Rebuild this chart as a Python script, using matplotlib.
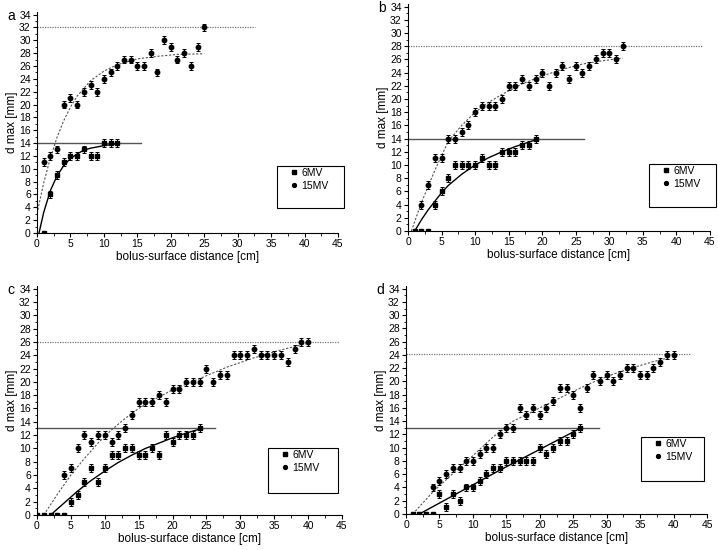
import numpy as np
import matplotlib
matplotlib.use('Agg')
import matplotlib.pyplot as plt
from matplotlib.patches import Rectangle
from matplotlib.lines import Line2D

plt.rcParams['font.family'] = ['Liberation Sans', 'DejaVu Sans']

# ---- panel a ----
x6_a = [1, 2, 3, 4, 5, 6, 7, 8, 9, 10, 11, 12]
y6_a = [0, 6, 9, 11, 12, 12, 13, 12, 12, 14, 14, 14]
x15_a = list(range(1, 26))
y15_a = [11, 12, 13, 20, 21, 20, 22, 23, 22, 24, 25, 26, 27, 27, 26, 26, 28, 25, 30, 29, 27, 28, 26, 29, 32]
fit6_a_x = [0.3, 1, 2, 3, 4, 5, 6, 7, 8, 10, 12]
fit6_a_y = [0, 3.2, 6.6, 8.9, 10.5, 11.6, 12.3, 12.9, 13.2, 13.6, 13.9]
fit15_a_x = [0, 1, 2, 3, 4, 5, 6, 8, 10, 12, 15, 18, 21, 25]
fit15_a_y = [3.0, 7.8, 11.7, 14.9, 17.5, 19.6, 21.3, 23.7, 25.2, 26.2, 27.1, 27.5, 27.8, 27.9]

# ---- panel b ----
x6_b = list(range(1, 20))
y6_b = [0, 0, 0, 4, 6, 8, 10, 10, 10, 10, 11, 10, 10, 12, 12, 12, 13, 13, 14]
x15_b = list(range(2, 33))
y15_b = [4, 7, 11, 11, 14, 14, 15, 16, 18, 19, 19, 19, 20, 22, 22, 23, 22, 23, 24, 22, 24, 25, 23, 25, 24, 25, 26, 27, 27, 26, 28]
fit6_b_x = [1, 2, 3, 4, 5, 6, 8, 10, 12, 14, 16, 19]
fit6_b_y = [0, 1.7, 3.2, 4.5, 5.8, 6.9, 8.6, 10, 11.1, 12, 12.8, 13.8]
fit15_b_x = [0.5, 2, 4, 6, 8, 10, 12, 14, 17, 20, 23, 26, 29, 32]
fit15_b_y = [0, 4.3, 9.2, 13.6, 16, 18, 19.5, 20.7, 22.3, 23.5, 24.5, 25.3, 25.8, 26.2]

# ---- panel c ----
x6_c = list(range(0, 25))
y6_c = [0, 0, 0, 0, 0, 2, 3, 5, 7, 5, 7, 9, 9, 10, 10, 9, 9, 10, 9, 12, 11, 12, 12, 12, 13]
x15_c = list(range(4, 41))
y15_c = [6, 7, 10, 12, 11, 12, 12, 11, 12, 13, 15, 17, 17, 17, 18, 17, 19, 19, 20, 20, 20, 22, 20, 21, 21,
         24, 24, 24, 25, 24, 24, 24, 24, 23, 25, 26, 26]
fit6_c_x = [2, 4, 6, 8, 10, 12, 14, 16, 18, 20, 22, 24]
fit6_c_y = [0, 1.8, 3.6, 5.2, 6.6, 7.9, 9.0, 10.0, 10.8, 11.6, 12.3, 12.9]
fit15_c_x = [1, 3, 5, 7, 9, 11, 13, 15, 17, 20, 24, 28, 32, 36, 40]
fit15_c_y = [0, 3.1, 6, 8.5, 10.8, 12.8, 14.5, 16, 17.2, 18.8, 20.5, 22.2, 23.6, 24.8, 25.8]

# ---- panel d ----
x6_d = list(range(1, 27))
y6_d = [0, 0, 0, 0, 3, 1, 3, 2, 4, 4, 5, 6, 7, 7, 8, 8, 8, 8, 8, 10, 9, 10, 11, 11, 12, 13]
x15_d = list(range(4, 41))
y15_d = [4, 5, 6, 7, 7, 8, 8, 9, 10, 10, 12, 13, 13, 16, 15, 16, 15, 16, 17, 19, 19, 18, 16, 19, 21,
         20, 21, 20, 21, 22, 22, 21, 21, 22, 23, 24, 24]
fit6_d_x = [2, 6, 10, 14, 18, 22, 26]
fit6_d_y = [0, 2.2, 4.4, 6.6, 8.7, 10.8, 12.9]
fit15_d_x = [1, 4, 7, 10, 13, 16, 19, 22, 25, 28, 31, 34, 37, 39]
fit15_d_y = [0, 3.3, 6.1, 8.8, 11.6, 14, 15.5, 17, 18.5, 19.9, 21.1, 22.1, 23, 23.5]

# plateau levels (value, end of line in cm)
plateau6 = {'a': (14, 15.6), 'b': (14, 26.2), 'c': (13, 26.2), 'd': (13, 28.8)}
plateau15 = {'a': (32, 32.6), 'b': (28, 43.9), 'c': (26, 44.5), 'd': (24.1, 42.5)}

panels = {
    'a': (x6_a, y6_a, x15_a, y15_a, fit6_a_x, fit6_a_y, fit15_a_x, fit15_a_y),
    'b': (x6_b, y6_b, x15_b, y15_b, fit6_b_x, fit6_b_y, fit15_b_x, fit15_b_y),
    'c': (x6_c, y6_c, x15_c, y15_c, fit6_c_x, fit6_c_y, fit15_c_x, fit15_c_y),
    'd': (x6_d, y6_d, x15_d, y15_d, fit6_d_x, fit6_d_y, fit15_d_x, fit15_d_y),
}

W, H = 718, 550
# axes boxes in pixels: left, y of zero, px width, px height
boxes = {'a': (37, 233, 301, 221), 'b': (408, 231, 302, 227),
         'c': (37, 515, 305, 229), 'd': (406, 514, 301, 228)}
legend_boxes = {'a': (277, 166, 67, 42), 'b': (649, 164, 67, 43),
                'c': (268, 448, 70, 45), 'd': (641, 437, 63, 44)}

fig = plt.figure(figsize=(W / 100, H / 100), dpi=100)

for key, (x6, y6, x15, y15, f6x, f6y, f15x, f15y) in panels.items():
    l, y0, w, h = boxes[key]
    ax = fig.add_axes([l / W, 1 - y0 / H, w / W, h / H])

    p6, e6 = plateau6[key]
    p15, e15 = plateau15[key]
    ax.plot([0, e6], [p6, p6], color='#555555', lw=1.0, zorder=1)
    ax.plot([0, e15], [p15, p15], color='#777777', lw=0.9, ls=(0, (1, 1)), zorder=1)
    ax.plot(f6x, f6y, color='black', lw=1.0, zorder=2)
    ax.plot(f15x, f15y, color='#555555', lw=0.8, ls=(0, (2, 1.5)), zorder=2)

    y6 = np.array(y6)
    y15 = np.array(y15)
    ax.errorbar(x6, y6, yerr=np.where(y6 > 0, 0.6, 0), fmt='s', ms=2.8, color='black',
                ecolor='black', elinewidth=0.7, capsize=1.6, capthick=0.7, zorder=3)
    ax.errorbar(x15, y15, yerr=np.where(y15 > 0, 0.6, 0), fmt='o', ms=3.2, color='black',
                ecolor='black', elinewidth=0.7, capsize=1.6, capthick=0.7, zorder=3)

    ax.set_xlim(0, 45)
    ax.set_ylim(0, 34.4)
    ax.set_xticks(np.arange(0, 46, 5))
    ax.set_xticks(np.arange(2.5, 45, 5), minor=True)
    ax.set_yticks(np.arange(0, 35, 2))
    ax.set_yticks(np.arange(1, 34, 2), minor=True)
    ax.spines['top'].set_visible(False)
    ax.spines['right'].set_visible(False)
    ax.spines['left'].set_bounds(0, 34.4)
    ax.tick_params(axis='both', which='major', direction='out', length=3, width=0.8,
                   labelsize=7.5, pad=1.5)
    ax.tick_params(axis='both', which='minor', direction='out', length=1.8, width=0.6)
    ax.set_xlabel('bolus-surface distance [cm]', fontsize=8.5, labelpad=1)
    ax.set_ylabel('d max [mm]', fontsize=8.5, labelpad=1)
    ax.patch.set_alpha(0)

    # legend box
    bl, bt, bw, bh = legend_boxes[key]
    fig.patches.append(Rectangle((bl / W, 1 - (bt + bh) / H), bw / W, bh / H,
                                 transform=fig.transFigure, fill=False,
                                 edgecolor='black', lw=0.8))
    handles = [Line2D([], [], ls='none', marker='s', ms=2.4, color='black'),
               Line2D([], [], ls='none', marker='o', ms=2.8, color='black')]
    ax.legend(handles, ['6MV', '15MV'], loc='upper left', frameon=False,
              bbox_to_anchor=((bl + 14) / W, 1 - (bt + 2) / H),
              bbox_transform=fig.transFigure, fontsize=7.5,
              handlelength=0.6, handletextpad=0.4, borderpad=0,
              borderaxespad=0, labelspacing=0.25)

    fig.text((l - 30) / W, 1 - (y0 - h + 4) / H, key, fontsize=10, ha='left', va='center')

fig.savefig('out.png', dpi=100)
